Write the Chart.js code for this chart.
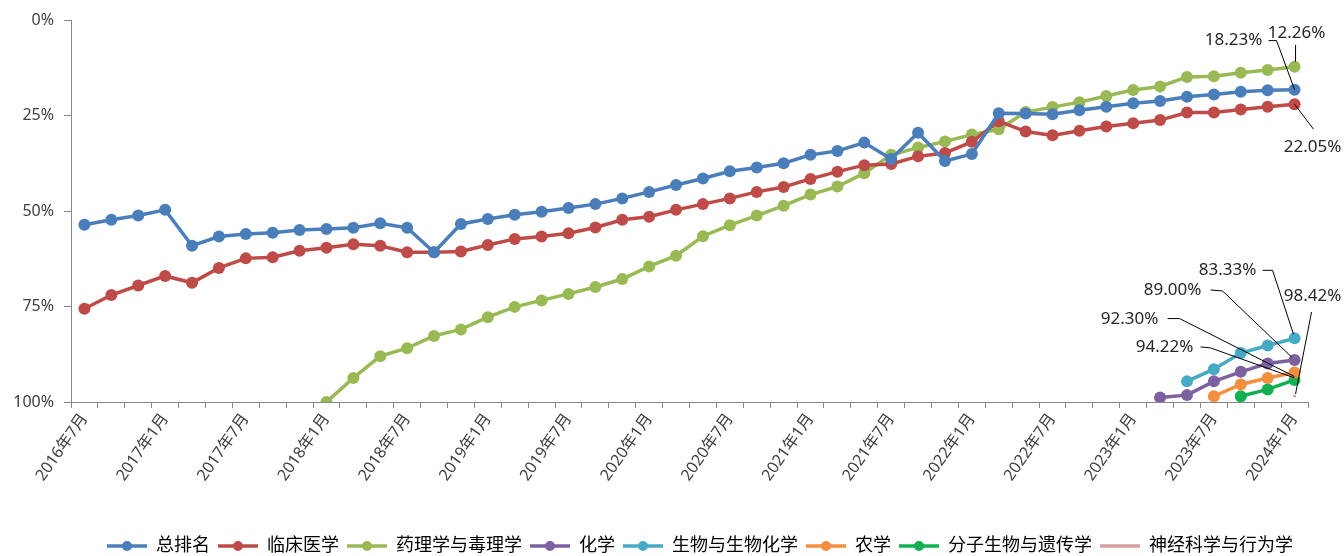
<!DOCTYPE html>
<html>
<head>
<meta charset="utf-8">
<script src="https://cdn.jsdelivr.net/npm/chart.js@4.4.1/dist/chart.umd.min.js"></script>
<style>
  html, body { margin: 0; padding: 0; background: #fff; }
</style>
</head>
<body>
<canvas id="myChart" width="1344" height="556"></canvas>
<script>
/* datos */
const meses = [
  '2016年7月', '2016年9月', '2016年11月', '2017年1月', '2017年3月', '2017年5月',
  '2017年7月', '2017年9月', '2017年11月', '2018年1月', '2018年3月', '2018年5月',
  '2018年7月', '2018年9月', '2018年11月', '2019年1月', '2019年3月', '2019年5月',
  '2019年7月', '2019年9月', '2019年11月', '2020年1月', '2020年3月', '2020年5月',
  '2020年7月', '2020年9月', '2020年11月', '2021年1月', '2021年3月', '2021年5月',
  '2021年7月', '2021年9月', '2021年11月', '2022年1月', '2022年3月', '2022年5月',
  '2022年7月', '2022年9月', '2022年11月', '2023年1月', '2023年3月', '2023年5月',
  '2023年7月', '2023年9月', '2023年11月', '2024年1月'
]

const zongPaiming = [
  53.6, 52.3, 51.2, 49.7, 59.1, 56.7, 56.0, 55.7, 55.0, 54.7,
  54.4, 53.2, 54.4, 60.8, 53.4, 52.1, 51.0, 50.2, 49.2, 48.2,
  46.7, 45.0, 43.2, 41.5, 39.6, 38.6, 37.5, 35.3, 34.3, 32.1,
  36.4, 29.5, 36.9, 35.1, 24.4, 24.5, 24.7, 23.6, 22.7, 21.8,
  21.2, 20.1, 19.5, 18.8, 18.4, 18.23
]

const linchuang = [
  75.6, 72.0, 69.5, 67.0, 68.8, 64.9, 62.4, 62.1, 60.4, 59.6,
  58.7, 59.1, 60.8, 60.8, 60.6, 58.9, 57.3, 56.7, 55.8, 54.3,
  52.3, 51.5, 49.7, 48.2, 46.7, 45.0, 43.7, 41.6, 39.7, 38.0,
  37.7, 35.7, 34.8, 31.9, 26.5, 29.2, 30.2, 29.0, 27.9, 27.0,
  26.2, 24.2, 24.2, 23.4, 22.7, 22.05
]

const yaoli = [
  null, null, null, null, null, null, null, null, null, 100,
  93.7, 88.0, 85.9, 82.7, 81.0, 77.8, 75.1, 73.4, 71.7, 69.9,
  67.8, 64.5, 61.7, 56.6, 53.7, 51.2, 48.6, 45.7, 43.6, 40.1,
  35.3, 33.4, 31.8, 30.0, 28.6, 24.1, 22.8, 21.5, 19.9, 18.3,
  17.4, 14.9, 14.7, 13.8, 13.1, 12.26
]

const huaxue = [
  null, null, null, null, null, null, null, null, null, null,
  null, null, null, null, null, null, null, null, null, null,
  null, null, null, null, null, null, null, null, null, null,
  null, null, null, null, null, null, null, null, null, null,
  98.8, 98.2, 94.6, 92.1, 89.9, 89.00
]

const shengwu = [
  null, null, null, null, null, null, null, null, null, null,
  null, null, null, null, null, null, null, null, null, null,
  null, null, null, null, null, null, null, null, null, null,
  null, null, null, null, null, null, null, null, null, null,
  null, 94.6, 91.4, 87.2, 85.2, 83.33
]

const nongxue = [
  null, null, null, null, null, null, null, null, null, null,
  null, null, null, null, null, null, null, null, null, null,
  null, null, null, null, null, null, null, null, null, null,
  null, null, null, null, null, null, null, null, null, null,
  null, null, 98.5, 95.4, 93.7, 92.30
]

const fenzi = [
  null, null, null, null, null, null, null, null, null, null,
  null, null, null, null, null, null, null, null, null, null,
  null, null, null, null, null, null, null, null, null, null,
  null, null, null, null, null, null, null, null, null, null,
  null, null, null, 98.5, 96.7, 94.22
]

const shenjing = [
  null, null, null, null, null, null, null, null, null, null,
  null, null, null, null, null, null, null, null, null, null,
  null, null, null, null, null, null, null, null, null, null,
  null, null, null, null, null, null, null, null, null, null,
  null, null, null, null, null, 98.42
]

const nombres = ['总排名', '临床医学', '药理学与毒理学', '化学', '生物与生物化学', '农学', '分子生物与遗传学', '神经科学与行为学']
const series = [zongPaiming, linchuang, yaoli, huaxue, shengwu, nongxue, fenzi, shenjing]
const colores = ['#4A7EBB', '#BE4B48', '#98B954', '#7D60A0', '#46AAC5', '#F38F3F', '#12B050', '#D9A0A0']
const yTicks = [0, 25, 50, 75, 100]

// posicion de las etiquetas del ultimo punto (desplazamiento desde el punto)
const etiquetas = [
  { dx: -61, dy: -49, guia: [[-26, -49], [-18, -49], [0, 0]] },
  { dx: 18, dy: 43, guia: [[0, 0], [19, 25]] },
  { dx: 2, dy: -34, guia: [[1, -22], [1, -5]] },
  { dx: -122, dy: -70, guia: [[-84, -70], [-72, -69], [-3, -3]] },
  { dx: -67, dy: -68, guia: [[-32, -68], [-22, -68], [-1, -4]] },
  { dx: -165, dy: -53, guia: [[-127, -54], [-115, -54], [0, 4]] },
  { dx: -130, dy: -33, guia: [[-94, -33], [-84, -32], [0, -2]] },
  { dx: 18, dy: -100, guia: [[17, -84], [1, -2]] }
]

const fuente = "'Noto Sans', 'Noto Sans CJK SC', sans-serif"

function marcador(color, conPunto) {
  const c = document.createElement('canvas')
  c.width = 40
  c.height = 14
  const g = c.getContext('2d')
  g.strokeStyle = color
  g.lineWidth = 3.5
  g.beginPath()
  g.moveTo(0, 7)
  g.lineTo(40, 7)
  g.stroke()
  if (conPunto) {
    g.fillStyle = color
    g.beginPath()
    g.arc(20, 7, 5, 0, Math.PI * 2)
    g.fill()
  }
  return c
}

const guias = {
  id: 'guias',
  afterDatasetsDraw(chart) {
    const ctx = chart.ctx
    ctx.save()
    etiquetas.forEach((e, i) => {
      const meta = chart.getDatasetMeta(i)
      const n = series[i].length - 1
      const p = meta.data[n]
      if (!p) return
      const px = p.x, py = p.y
      ctx.strokeStyle = '#000'
      ctx.lineWidth = 1
      ctx.beginPath()
      e.guia.forEach((q, k) => {
        if (k === 0) ctx.moveTo(px + q[0], py + q[1])
        else ctx.lineTo(px + q[0], py + q[1])
      })
      ctx.stroke()
      ctx.fillStyle = '#262626'
      ctx.font = '17px ' + fuente
      ctx.textAlign = 'center'
      ctx.textBaseline = 'middle'
      ctx.fillText(series[i][n].toFixed(2) + '%', px + e.dx, py + e.dy)
    })
    ctx.restore()
  }
}

// la leyenda va un poco a la derecha, como en el original
const moverLeyenda = {
  id: 'moverLeyenda',
  afterLayout(chart) {
    if (chart.legend) {
      chart.legend.left += 46
      chart.legend.right += 46
    }
  }
}

const ctx = document.getElementById('myChart')
const myChart = new Chart(ctx, {
  type: 'line',
  data: {
    labels: meses,
    datasets: series.map((s, i) => ({
      label: nombres[i],
      data: s,
      borderColor: colores[i],
      backgroundColor: colores[i],
      pointBackgroundColor: colores[i],
      pointBorderColor: colores[i],
      borderWidth: 3.5,
      pointRadius: i === 7 ? 1.5 : 6,
      pointBorderWidth: 0,
      lineTension: 0,
      spanGaps: false
    }))
  },
  options: {
    responsive: false,
    animation: false,
    layout: {
      padding: { top: 20, right: 36, left: 0, bottom: -9 }
    },
    scales: {
      x: {
        offset: true,
        grid: {
          offset: true,
          drawOnChartArea: false,
          drawTicks: true,
          tickLength: 6,
          color: '#868686'
        },
        border: { color: '#868686', width: 1 },
        ticks: {
          autoSkip: false,
          maxRotation: 55,
          minRotation: 55,
          color: '#404040',
          font: { family: fuente, size: 16 },
          padding: 2,
          callback: function (v, i) {
            return i % 3 === 0 ? meses[i] : ''
          }
        },
        afterFit: function (scale) {
          scale.height = 127
        }
      },
      y: {
        reverse: true,
        min: 0,
        max: 100,
        grid: {
          drawOnChartArea: false,
          drawTicks: true,
          tickLength: 7,
          color: '#868686'
        },
        border: { color: '#868686', width: 1 },
        afterBuildTicks: function (scale) {
          scale.ticks = yTicks.map(v => ({ value: v }))
        },
        ticks: {
          color: '#404040',
          font: { family: fuente, size: 16 },
          padding: 10,
          callback: function (v) {
            return v + '%'
          }
        },
        afterFit: function (scale) {
          scale.width = 71
        }
      }
    },
    plugins: {
      legend: {
        display: true,
        position: 'bottom',
        labels: {
          usePointStyle: true,
          pointStyleWidth: 40,
          padding: 8,
          color: '#262626',
          font: { family: fuente, size: 18 },
          generateLabels: function (chart) {
            return chart.data.datasets.map((d, i) => ({
              text: d.label,
              fillStyle: colores[i],
              strokeStyle: colores[i],
              lineWidth: 0,
              pointStyle: marcador(colores[i], i !== 7),
              datasetIndex: i,
              hidden: false
            }))
          }
        }
      },
      tooltip: { enabled: false }
    }
  },
  plugins: [guias, moverLeyenda]
})
</script>
</body>
</html>
